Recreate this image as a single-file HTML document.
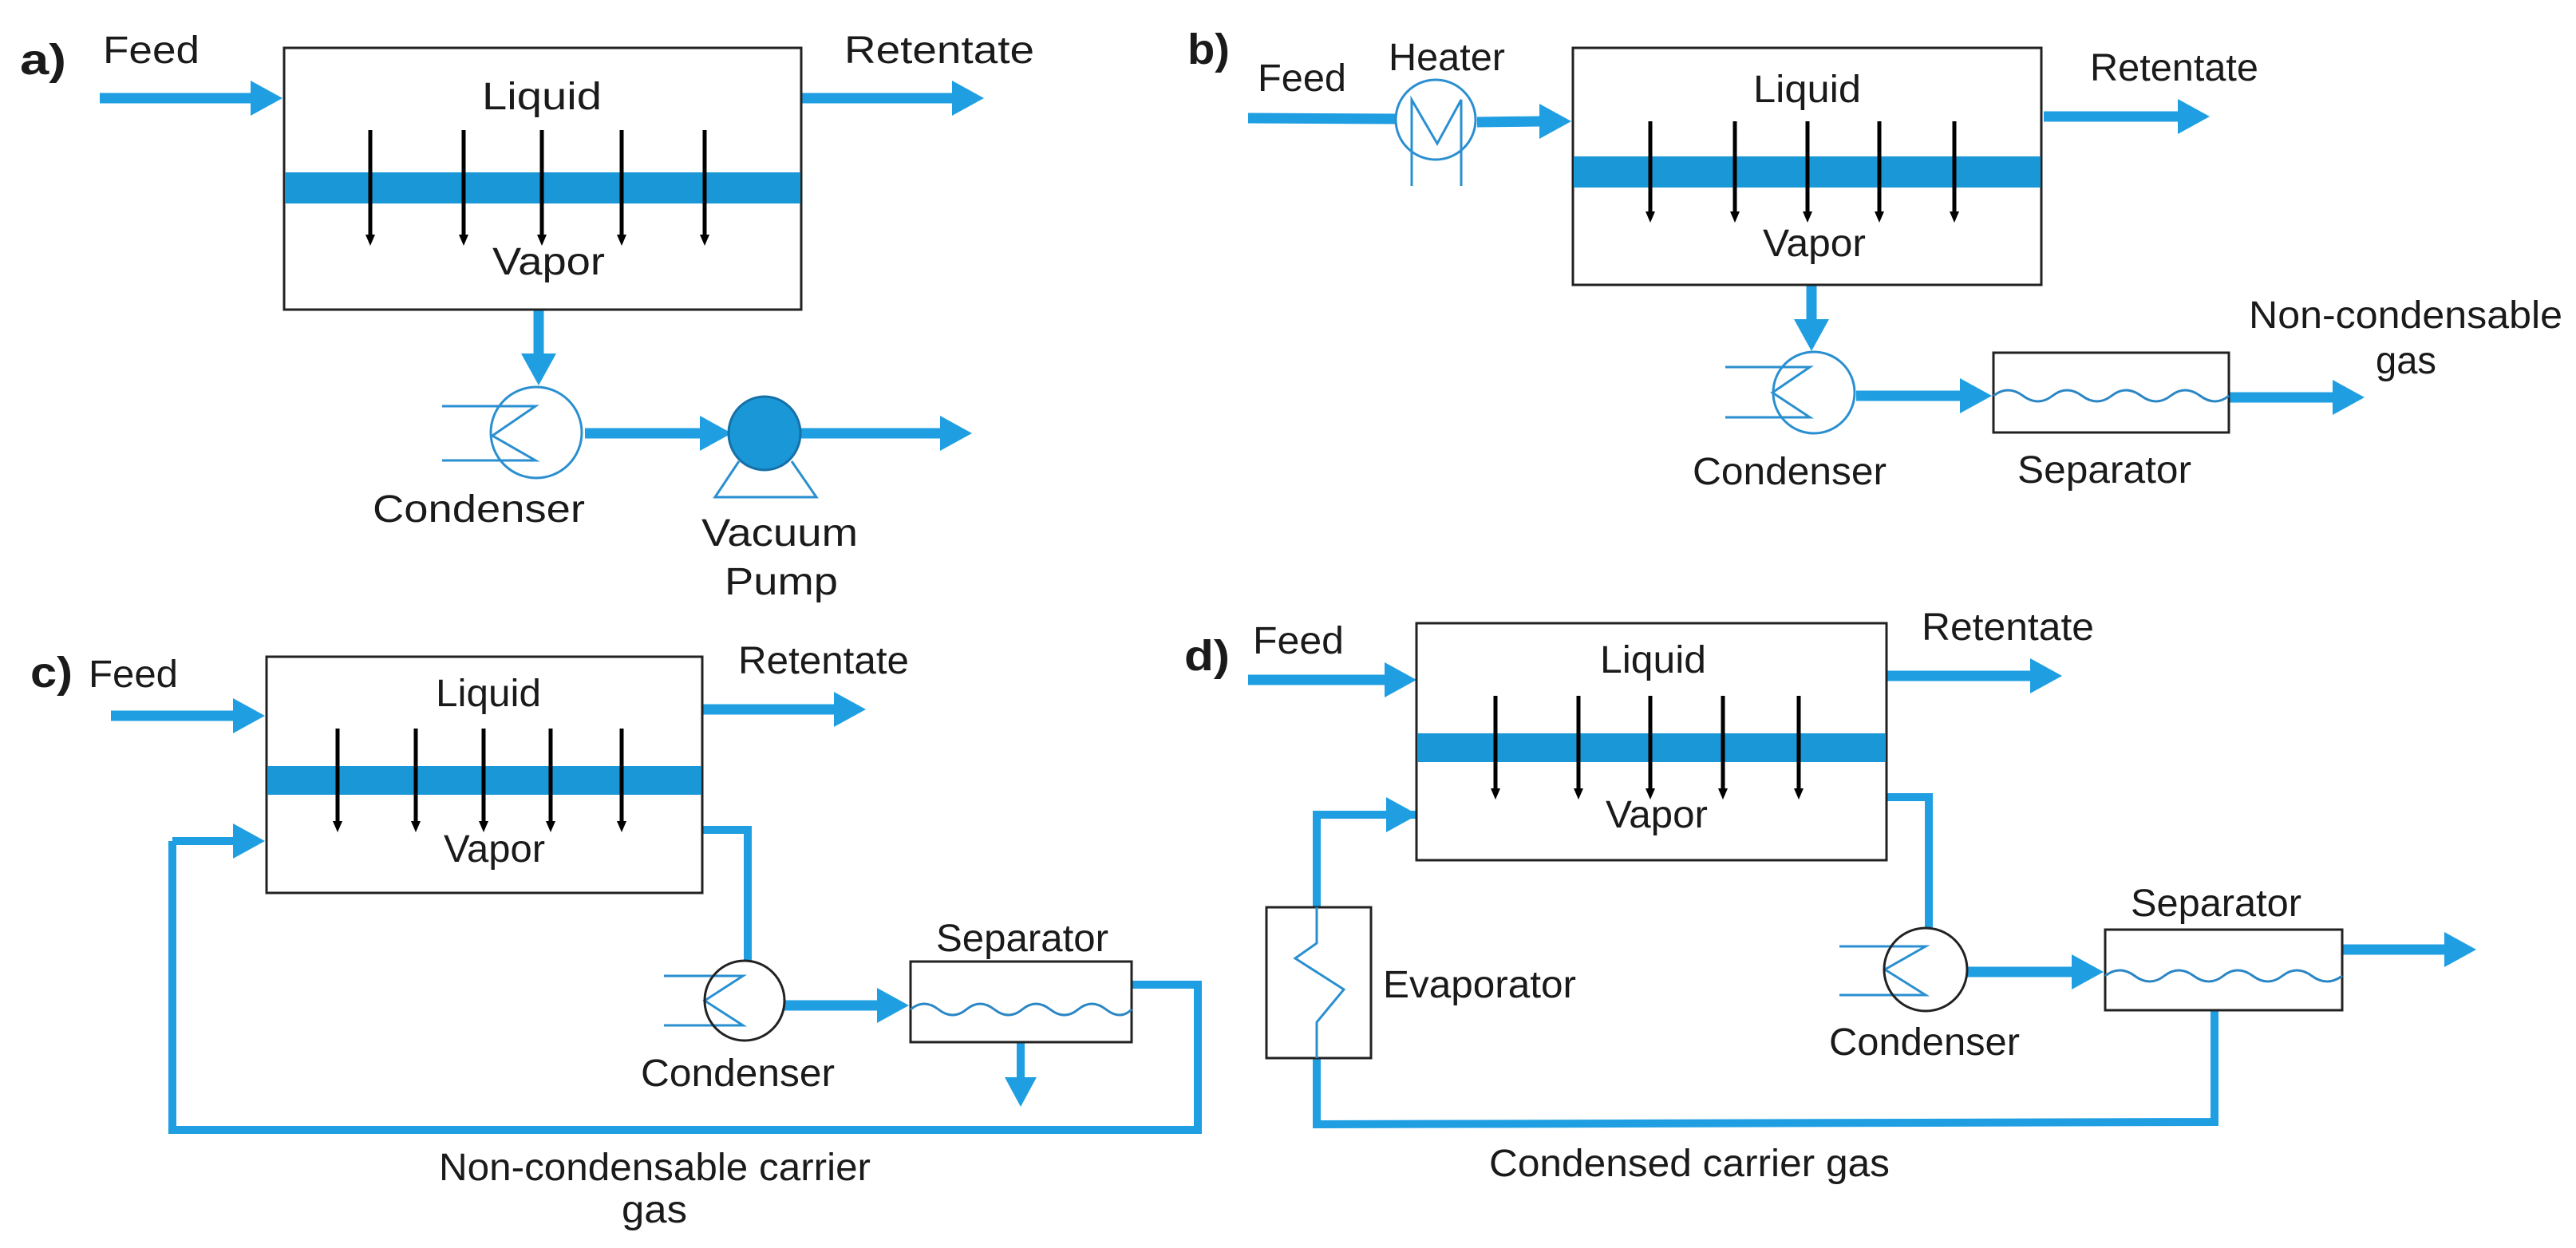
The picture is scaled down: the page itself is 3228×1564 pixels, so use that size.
<!DOCTYPE html>
<html><head><meta charset="utf-8"><style>
html,body{margin:0;padding:0;background:#fff;}
svg{display:block;}
text{font-family:"Liberation Sans",Arial,sans-serif;font-size:48px;fill:#1a1a1a;}
.lb{font-weight:bold;font-size:54px;}
</style></head><body>
<svg width="3228" height="1564" viewBox="0 0 3228 1564" xmlns="http://www.w3.org/2000/svg">
<defs></defs>
<g fill="none" stroke="#1f9fe2" stroke-width="13">
<!-- a -->
<line x1="125" y1="123" x2="316" y2="123"/>
<line x1="1005" y1="123" x2="1195" y2="123"/>
<line x1="675" y1="388" x2="675" y2="445"/>
<line x1="733" y1="543" x2="879" y2="543"/>
<line x1="1003" y1="543" x2="1180" y2="543"/>
<!-- b -->
<line x1="1564" y1="148" x2="1749" y2="149"/>
<line x1="1851" y1="153" x2="1931" y2="152"/>
<line x1="2561" y1="146" x2="2731" y2="146"/>
<line x1="2270" y1="357" x2="2270" y2="402"/>
<line x1="2326" y1="496" x2="2458" y2="496"/>
<line x1="2793" y1="498" x2="2925" y2="498"/>
<!-- c -->
<line x1="139" y1="897" x2="294" y2="897"/>
<line x1="880" y1="889" x2="1047" y2="889"/>
<line x1="983" y1="1260" x2="1101" y2="1260"/>
<!-- d -->
<line x1="1564" y1="852" x2="1737" y2="852"/>
<line x1="2364" y1="847" x2="2546" y2="847"/>
<line x1="2465" y1="1218" x2="2598" y2="1218"/>
<line x1="2935" y1="1190" x2="3065" y2="1190"/>
</g>
<g fill="none" stroke="#1f9fe2" stroke-width="10">
<polyline points="216,1054 216,1416 1501,1416 1501,1234 1418,1234"/>
<line x1="216" y1="1054" x2="294" y2="1054"/>
<polyline points="880,1040 937,1040 937,1204"/>
<line x1="1279" y1="1306" x2="1279" y2="1352"/>
<polyline points="1775,1021 1650,1021 1650,1137"/>
<polyline points="1650,1326 1650,1409 2775,1406 2775,1266"/>
<polyline points="2364,999 2417,999 2417,1162"/>
</g>
<g fill="#1f9fe2">
<polygon points="314,101 354,123 314,145"/>
<polygon points="1193,101 1233,123 1193,145"/>
<polygon points="653,443 697,443 675,483"/>
<polygon points="877,521 917,543 877,565"/>
<polygon points="1178,521 1218,543 1178,565"/>
<polygon points="1929,130 1969,152 1929,174"/>
<polygon points="2729,124 2769,146 2729,168"/>
<polygon points="2248,400 2292,400 2270,440"/>
<polygon points="2456,474 2496,496 2456,518"/>
<polygon points="2923,476 2963,498 2923,520"/>
<polygon points="292,875 332,897 292,919"/>
<polygon points="1045,867 1085,889 1045,911"/>
<polygon points="292,1032 332,1054 292,1076"/>
<polygon points="1099,1238 1139,1260 1099,1282"/>
<polygon points="1259,1350 1299,1350 1279,1387"/>
<polygon points="1735,830 1775,852 1735,874"/>
<polygon points="2544,825 2584,847 2544,869"/>
<polygon points="1737,999 1777,1021 1737,1043"/>
<polygon points="2596,1196 2636,1218 2596,1240"/>
<polygon points="3063,1168 3103,1190 3063,1212"/>
</g>
<!-- boxes & membranes -->
<g stroke="#222" stroke-width="3" fill="none">
<rect x="356" y="60" width="648" height="328"/>
<rect x="1971" y="60" width="587" height="297"/>
<rect x="334" y="823" width="546" height="296"/>
<rect x="1775" y="781" width="589" height="297"/>
<rect x="2498" y="442" width="295" height="100"/>
<rect x="1141" y="1205" width="277" height="101"/>
<rect x="2638" y="1165" width="297" height="101"/>
<rect x="1587" y="1137" width="131" height="189"/>
</g>
<g fill="#1a97d6">
<rect x="357" y="216" width="646" height="39"/>
<rect x="1972" y="196" width="585" height="39"/>
<rect x="335" y="960" width="544" height="36"/>
<rect x="1776" y="919" width="587" height="36"/>
</g>
<!-- black flux arrows -->
<g stroke="#000" stroke-width="5">
<line x1="464" y1="163" x2="464" y2="298"/><line x1="581" y1="163" x2="581" y2="298"/><line x1="679" y1="163" x2="679" y2="298"/><line x1="779" y1="163" x2="779" y2="298"/><line x1="883" y1="163" x2="883" y2="298"/>
<line x1="2068" y1="152" x2="2068" y2="269"/><line x1="2174" y1="152" x2="2174" y2="269"/><line x1="2265" y1="152" x2="2265" y2="269"/><line x1="2355" y1="152" x2="2355" y2="269"/><line x1="2449" y1="152" x2="2449" y2="269"/>
<line x1="423" y1="913" x2="423" y2="1033"/><line x1="521" y1="913" x2="521" y2="1033"/><line x1="606" y1="913" x2="606" y2="1033"/><line x1="690" y1="913" x2="690" y2="1033"/><line x1="779" y1="913" x2="779" y2="1033"/>
<line x1="1874" y1="872" x2="1874" y2="992"/><line x1="1978" y1="872" x2="1978" y2="992"/><line x1="2068" y1="872" x2="2068" y2="992"/><line x1="2159" y1="872" x2="2159" y2="992"/><line x1="2254" y1="872" x2="2254" y2="992"/>
</g>
<g fill="#000">
<polygon points="458,294 470,294 464,308"/><polygon points="575,294 587,294 581,308"/><polygon points="673,294 685,294 679,308"/><polygon points="773,294 785,294 779,308"/><polygon points="877,294 889,294 883,308"/>
<polygon points="2062,265 2074,265 2068,279"/><polygon points="2168,265 2180,265 2174,279"/><polygon points="2259,265 2271,265 2265,279"/><polygon points="2349,265 2361,265 2355,279"/><polygon points="2443,265 2455,265 2449,279"/>
<polygon points="417,1029 429,1029 423,1043"/><polygon points="515,1029 527,1029 521,1043"/><polygon points="600,1029 612,1029 606,1043"/><polygon points="684,1029 696,1029 690,1043"/><polygon points="773,1029 785,1029 779,1043"/>
<polygon points="1868,988 1880,988 1874,1002"/><polygon points="1972,988 1984,988 1978,1002"/><polygon points="2062,988 2074,988 2068,1002"/><polygon points="2153,988 2165,988 2159,1002"/><polygon points="2248,988 2260,988 2254,1002"/>
</g>
<!-- condensers -->
<g fill="none" stroke="#2a8fd0" stroke-width="3">
<circle cx="672" cy="542" r="57"/>
<polyline points="554,509 671,509 617,546 671,577 554,577"/>
<circle cx="2273" cy="492" r="51"/>
<polyline points="2162,460 2268,460 2221,492 2268,523 2162,523"/>
<polyline points="832,1223 931,1223 883,1254 931,1285 832,1285"/>
<polyline points="2305,1186 2413,1186 2362,1215 2413,1247 2305,1247"/>
<!-- heater -->
<circle cx="1799" cy="150" r="50"/>
<polyline points="1769,233 1769,125 1801,180 1831,125 1831,233"/>
<!-- pump triangle -->
<polyline points="926,578 896,623 1023,623 992,578"/>
<!-- evaporator zigzag -->
<polyline points="1650,1137 1650,1182 1623,1201 1684,1240 1650,1281 1650,1326"/>
</g>
<g fill="none" stroke="#222" stroke-width="3">
<circle cx="933" cy="1254" r="50"/>
<circle cx="2413" cy="1215" r="52"/>
</g>
<ellipse cx="958" cy="543" rx="45" ry="46" fill="#1a97d6" stroke="#1670a8" stroke-width="3"/>
<!-- waves -->
<g fill="none" stroke="#2a86c4" stroke-width="3">
<path d="M2498,496 Q2516,482 2535,496 T2572,496 T2609,496 T2646,496 T2683,496 T2720,496 T2757,496 T2793,496"/>
<path d="M1141,1265 Q1158,1251 1176,1265 T1211,1265 T1246,1265 T1281,1265 T1316,1265 T1351,1265 T1386,1265 T1418,1265"/>
<path d="M2638,1223 Q2656,1209 2675,1223 T2712,1223 T2749,1223 T2786,1223 T2823,1223 T2860,1223 T2897,1223 T2935,1223"/>
</g>
<!-- labels -->
<text class="lb" x="25" y="93" textLength="58" lengthAdjust="spacingAndGlyphs">a)</text>
<text x="129" y="79" textLength="121" lengthAdjust="spacingAndGlyphs">Feed</text>
<text x="1058" y="79" textLength="238" lengthAdjust="spacingAndGlyphs">Retentate</text>
<text x="604" y="137" textLength="150" lengthAdjust="spacingAndGlyphs">Liquid</text>
<text x="617" y="344" textLength="141" lengthAdjust="spacingAndGlyphs">Vapor</text>
<text x="467" y="654" textLength="266" lengthAdjust="spacingAndGlyphs">Condenser</text>
<text x="879" y="684" textLength="196" lengthAdjust="spacingAndGlyphs">Vacuum</text>
<text x="908" y="745" textLength="142" lengthAdjust="spacingAndGlyphs">Pump</text>

<text class="lb" x="1488" y="80" textLength="53" lengthAdjust="spacingAndGlyphs">b)</text>
<text x="1576" y="114" textLength="111" lengthAdjust="spacingAndGlyphs">Feed</text>
<text x="1740" y="88" textLength="146" lengthAdjust="spacingAndGlyphs">Heater</text>
<text x="2197" y="128" textLength="135" lengthAdjust="spacingAndGlyphs">Liquid</text>
<text x="2209" y="321" textLength="129" lengthAdjust="spacingAndGlyphs">Vapor</text>
<text x="2619" y="101" textLength="211" lengthAdjust="spacingAndGlyphs">Retentate</text>
<text x="2818" y="411" textLength="393" lengthAdjust="spacingAndGlyphs">Non-condensable</text>
<text x="2977" y="468" textLength="76" lengthAdjust="spacingAndGlyphs">gas</text>
<text x="2121" y="607" textLength="243" lengthAdjust="spacingAndGlyphs">Condenser</text>
<text x="2528" y="605" textLength="218" lengthAdjust="spacingAndGlyphs">Separator</text>

<text class="lb" x="38" y="861" textLength="53" lengthAdjust="spacingAndGlyphs">c)</text>
<text x="111" y="861" textLength="112" lengthAdjust="spacingAndGlyphs">Feed</text>
<text x="925" y="844" textLength="214" lengthAdjust="spacingAndGlyphs">Retentate</text>
<text x="546" y="885" textLength="132" lengthAdjust="spacingAndGlyphs">Liquid</text>
<text x="556" y="1080" textLength="127" lengthAdjust="spacingAndGlyphs">Vapor</text>
<text x="1173" y="1192" textLength="216" lengthAdjust="spacingAndGlyphs">Separator</text>
<text x="803" y="1361" textLength="243" lengthAdjust="spacingAndGlyphs">Condenser</text>
<text x="550" y="1479" textLength="541" lengthAdjust="spacingAndGlyphs">Non-condensable carrier</text>
<text x="779" y="1532" textLength="82" lengthAdjust="spacingAndGlyphs">gas</text>

<text class="lb" x="1484" y="840" textLength="57" lengthAdjust="spacingAndGlyphs">d)</text>
<text x="1570" y="819" textLength="114" lengthAdjust="spacingAndGlyphs">Feed</text>
<text x="2408" y="802" textLength="216" lengthAdjust="spacingAndGlyphs">Retentate</text>
<text x="2005" y="843" textLength="133" lengthAdjust="spacingAndGlyphs">Liquid</text>
<text x="2012" y="1037" textLength="128" lengthAdjust="spacingAndGlyphs">Vapor</text>
<text x="1733" y="1250" textLength="242" lengthAdjust="spacingAndGlyphs">Evaporator</text>
<text x="2670" y="1148" textLength="214" lengthAdjust="spacingAndGlyphs">Separator</text>
<text x="2292" y="1322" textLength="239" lengthAdjust="spacingAndGlyphs">Condenser</text>
<text x="1866" y="1474" textLength="502" lengthAdjust="spacingAndGlyphs">Condensed carrier gas</text>
</svg>
</body></html>
